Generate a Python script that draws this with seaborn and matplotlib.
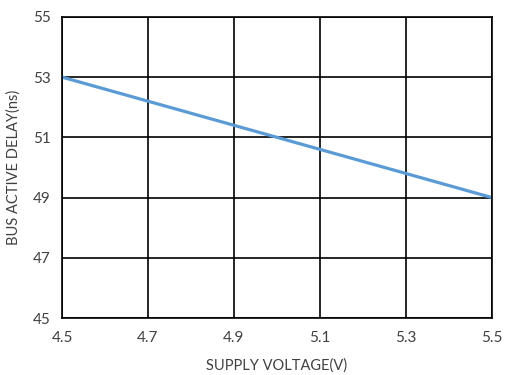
import matplotlib
matplotlib.use("Agg")
import matplotlib.pyplot as plt
import seaborn as sns
import pandas as pd

voltage = [4.5, 4.7, 4.9, 5.1, 5.3, 5.5]
delay = [53.0, 52.2, 51.4, 50.6, 49.8, 49.0]
x_ticks = [4.5, 4.7, 4.9, 5.1, 5.3, 5.5]
y_ticks = [45, 47, 49, 51, 53, 55]

sns.set_theme(style="white")
plt.rcParams['font.family'] = ['Lato', 'DejaVu Sans']

df = pd.DataFrame({"v": voltage, "d": delay})
fig = plt.figure(figsize=(5.06, 3.75), dpi=100)
ax = fig.add_axes([0.1225, 0.152, 0.8495, 0.803])
sns.lineplot(data=df, x="v", y="d", ax=ax, color="#5B9BD5", linewidth=2.3)
ax.set_xlim(4.5, 5.5)
ax.set_ylim(45, 55)
ax.set_xticks(x_ticks)
ax.set_xticklabels([f"{t:.1f}" for t in x_ticks])
ax.set_yticks(y_ticks)
ax.set_yticklabels([str(t) for t in y_ticks])
ax.grid(True, color="black", linewidth=1.2)
ax.set_axisbelow(True)
for s in ax.spines.values():
    s.set_color("black")
    s.set_linewidth(1.2)
ax.tick_params(axis="both", length=0, labelsize=11, labelcolor="#404040")
ax.tick_params(axis="x", pad=9)
ax.tick_params(axis="y", pad=8)
ax.set_xlabel("SUPPLY VOLTAGE(V)", fontsize=10.5, color="#404040")
ax.set_ylabel("BUS ACTIVE DELAY(ns)", fontsize=10.5, color="#404040")
ax.xaxis.set_label_coords(0.5, -0.135)
ax.yaxis.set_label_coords(-0.095, 0.5)
fig.savefig("out.png", dpi=100)
